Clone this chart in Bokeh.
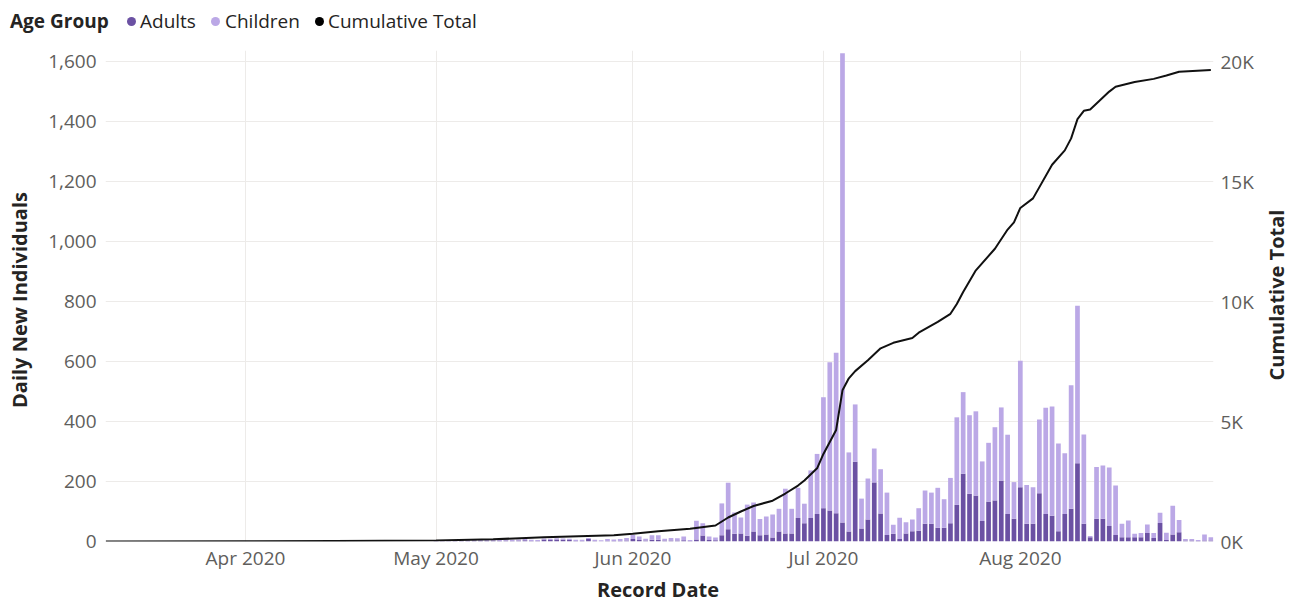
import numpy as np
import pandas as pd
from bokeh.plotting import figure
from bokeh.layouts import column
from bokeh.models import (Range1d, LinearAxis, FixedTicker, DatetimeTickFormatter,
                          NumeralTickFormatter, CustomJSTickFormatter, ColumnDataSource, Div)
from bokeh.embed import file_html
from bokeh.resources import INLINE

# ---------------- data ----------------
first_day = "2020-05-01"
last_day = "2020-08-31"

adults = [
    # May
    1, 1, 1, 2, 2, 2, 3, 2, 2, 3, 2, 3, 2, 3, 4, 2, 2, 7, 5, 7, 6, 5, 2, 2, 8, 2, 1, 2, 2, 2, 3,
    # June
    8, 5, 3, 6, 6, 3, 3, 3, 4, 2, 7, 20, 5, 4, 21, 41, 26, 27, 19, 33, 21, 23, 13, 33, 27, 27, 78, 61, 78, 92,
    # July
    111, 103, 94, 63, 33, 266, 43, 73, 197, 93, 22, 26, 8, 27, 34, 36, 59, 59, 46, 46, 61, 122, 226, 159,
    153, 68, 133, 137, 203, 92, 76,
    # August
    181, 59, 59, 161, 92, 86, 34, 92, 109, 261, 59, 14, 76, 76, 52, 22, 14, 14, 14, 14, 28, 12, 62, 5,
    23, 31, 3, 3, 2, 3, 3,
]
children = [
    # May
    1, 2, 3, 3, 4, 3, 3, 4, 3, 4, 4, 4, 4, 4, 4, 4, 3, 3, 4, 4, 4, 4, 4, 4, 4, 4, 3, 6, 5, 6, 9,
    # June
    14, 12, 6, 15, 15, 6, 9, 8, 13, 3, 62, 41, 12, 9, 106, 155, 71, 53, 104, 97, 54, 60, 77, 76, 149, 82,
    101, 65, 159, 200,
    # July
    370, 495, 535, 1565, 264, 191, 100, 137, 113, 148, 141, 30, 71, 37, 39, 75, 111, 104, 133, 95, 151,
    292, 272, 262, 281, 199, 196, 244, 244, 264, 122,
    # August
    422, 129, 122, 246, 354, 364, 293, 202, 412, 525, 298, 4, 172, 177, 195, 165, 45, 56, 12, 14, 29, 16,
    34, 24, 96, 41, 5, 5, 3, 20, 11,
]

cum_dates = [
    "2020-03-10", "2020-04-01", "2020-04-15", "2020-05-01", "2020-05-10", "2020-05-18", "2020-05-29",
    "2020-06-01", "2020-06-05", "2020-06-10", "2020-06-14", "2020-06-16", "2020-06-18", "2020-06-20",
    "2020-06-23", "2020-06-25", "2020-06-27", "2020-06-28", "2020-06-30", "2020-07-01", "2020-07-03",
    "2020-07-04", "2020-07-05", "2020-07-06", "2020-07-08", "2020-07-10", "2020-07-12", "2020-07-15",
    "2020-07-16", "2020-07-19", "2020-07-21", "2020-07-22", "2020-07-23", "2020-07-25", "2020-07-28",
    "2020-07-30", "2020-07-31", "2020-08-01", "2020-08-03", "2020-08-06", "2020-08-08", "2020-08-09",
    "2020-08-10", "2020-08-11", "2020-08-12", "2020-08-15", "2020-08-16", "2020-08-19", "2020-08-22",
    "2020-08-24", "2020-08-26", "2020-08-31",
]
cum_values = [
    0, 10, 20, 40, 90, 180, 265,
    320, 430, 528, 667, 1000, 1250, 1480,
    1700, 2000, 2330, 2540, 3050, 3650, 4650,
    6300, 6800, 7100, 7550, 8050, 8280, 8480,
    8700, 9150, 9490, 9900, 10400, 11300, 12200,
    13000, 13300, 13900, 14300, 15700, 16300, 16800,
    17600, 17950, 18000, 18750, 18950, 19150, 19280,
    19420, 19580, 19650,
]

series_names = ["Adults", "Children", "Cumulative Total"]
legend_title = "Age Group"
x_title = "Record Date"
y_title = "Daily New Individuals"
y2_title = "Cumulative Total"
month_ticks = ["2020-04-01", "2020-05-01", "2020-06-01", "2020-07-01", "2020-08-01"]
left_ticks = [0, 200, 400, 600, 800, 1000, 1200, 1400, 1600]
right_ticks = [0, 5000, 10000, 15000, 20000]

# ---------------- styling ----------------
ADULT = "#6B51A3"
CHILD = "#BBA8E6"
LINE = "#111111"
FONT = "Open Sans"
TICK_COLOR = "#605E5C"
TITLE_COLOR = "#252423"
GRID = "#EDEBE9"

W, H = 1296, 603
HEAD = 48  # height of the legend strip above the chart

dates = pd.date_range(first_day, last_day, freq="D")
src = ColumnDataSource(dict(date=dates, Adults=adults, Children=children))
cum_src = ColumnDataSource(dict(date=pd.to_datetime(cum_dates), cum=cum_values))

x_start = pd.Timestamp("2020-03-09 23:00")
x_end = pd.Timestamp("2020-08-31 10:00")
Y_TOP = 1637

p = figure(width=W, height=H - HEAD, x_axis_type="datetime",
           x_range=Range1d(x_start, x_end), y_range=Range1d(0, Y_TOP),
           output_backend="svg", toolbar_location=None,
           min_border_left=105, min_border_right=83, min_border_top=2, min_border_bottom=62)
p.outline_line_color = None
p.border_fill_color = None

day_ms = 24 * 3600 * 1000
p.vbar_stack(["Adults", "Children"], x="date", width=0.74 * day_ms, source=src,
             color=[ADULT, CHILD], line_color=None)

p.extra_y_ranges = {"cum": Range1d(0, Y_TOP * 12.5)}
p.line("date", "cum", source=cum_src, y_range_name="cum", line_color=LINE, line_width=2)

# axes
xa = p.xaxis[0]
xa.ticker = FixedTicker(ticks=[pd.Timestamp(t).value // 10**6 for t in month_ticks])
xa.formatter = DatetimeTickFormatter(days="%b %Y", months="%b %Y", years="%b %Y",
                                     hours="%b %Y", minutes="%b %Y")
ya = p.yaxis[0]
ya.ticker = FixedTicker(ticks=left_ticks)
ya.formatter = NumeralTickFormatter(format="0,0")

ra = LinearAxis(y_range_name="cum", ticker=FixedTicker(ticks=right_ticks),
                formatter=CustomJSTickFormatter(code="return (tick/1000).toFixed(0) + 'K'"))
p.add_layout(ra, "right")

for ax in [xa, ya, ra]:
    ax.axis_line_color = None
    ax.major_tick_line_color = None
    ax.minor_tick_line_color = None
    ax.major_tick_out = 0
    ax.major_tick_in = 0
    ax.minor_tick_out = 0
    ax.minor_tick_in = 0
    ax.major_label_text_font = FONT
    ax.major_label_text_font_size = "19px"
    ax.major_label_text_color = TICK_COLOR
xa.major_label_standoff = 3
ya.major_label_standoff = 9
ra.major_label_standoff = 7

p.xgrid.ticker = xa.ticker
p.xgrid.grid_line_color = GRID
p.ygrid.ticker = ya.ticker
p.ygrid.grid_line_color = GRID

# ---------------- legend strip and axis titles (HTML) ----------------
legend_colors = [ADULT, CHILD, "#000000"]
dot_left = [127, 211, 315]
text_left = [140, 225, 328]
base = "position:absolute;z-index:100;white-space:nowrap;"
parts = [f'<span style="{base}left:10px;top:8px;font-weight:bold;">{legend_title}</span>']
for name, col, dl, tl in zip(series_names, legend_colors, dot_left, text_left):
    parts.append(f'<span style="{base}left:{dl}px;top:17px;width:9px;height:9px;'
                 f'border-radius:50%;background:{col};"></span>')
    parts.append(f'<span style="{base}left:{tl}px;top:8px;">{name}</span>')
title_css = base + "font-weight:bold;font-size:20px;line-height:26px;"
parts.append(f'<span style="{title_css}left:20px;top:300px;'
             f'transform:translate(-50%,-50%) rotate(-90deg);">{y_title}</span>')
parts.append(f'<span style="{title_css}left:1277px;top:295px;'
             f'transform:translate(-50%,-50%) rotate(-90deg);">{y2_title}</span>')
parts.append(f'<span style="{title_css}left:658px;top:590px;'
             f'transform:translate(-50%,-50%);">{x_title}</span>')
html = ('<div style="width:1296px;height:48px;overflow:visible;'
        f"font-family:'{FONT}';font-size:19px;line-height:26px;color:{TITLE_COLOR};\">"
        + "".join(parts) + "</div>")
legend_div = Div(text=html, width=W, height=HEAD, margin=(0, 0, 0, 0),
                 styles={"overflow": "visible"})

layout = column(legend_div, p, spacing=0)
open("out.html", "w").write(file_html(layout, INLINE))
